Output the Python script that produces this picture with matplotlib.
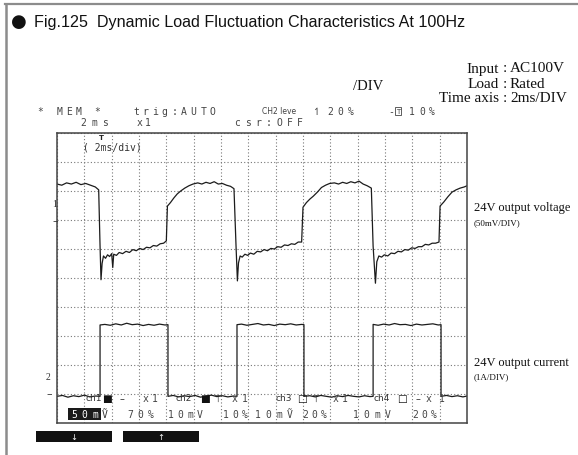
import matplotlib
matplotlib.use("Agg")
import matplotlib.pyplot as plt
from matplotlib.patches import Rectangle
from matplotlib.lines import Line2D

W, H = 578, 456

# ch1: 24V output voltage ripple, time in ms, deviation in mV (50mV/DIV)
v_time = [0.00, 0.35, 0.70, 1.05, 1.40, 1.75, 2.10, 2.45, 2.80, 3.05,
          3.15, 3.22, 3.30, 3.40, 3.55, 3.70, 3.85, 4.00, 4.08, 4.15,
          4.35, 4.55, 4.80, 5.05, 5.30, 5.55, 5.80, 6.05, 6.30, 6.55,
          6.80, 7.05, 7.30, 7.55, 7.80, 8.00, 8.08, 8.30, 8.55, 8.80,
          9.05, 9.35, 9.65, 9.95, 10.3, 10.6, 10.9, 11.2, 11.5, 11.8,
          12.1, 12.4, 12.7, 12.95, 13.10, 13.20, 13.28, 13.40, 13.55, 13.75,
          13.95, 14.15, 14.40, 14.65, 14.90, 15.15, 15.40, 15.65, 15.90, 16.15,
          16.40, 16.65, 16.90, 17.15, 17.40, 17.65, 17.90, 18.00, 18.25, 18.50,
          18.75, 19.05, 19.35, 19.65, 19.95, 20.3, 20.6, 20.9, 21.2, 21.5,
          21.8, 22.1, 22.4, 22.7, 23.0, 23.13, 23.30, 23.40, 23.55, 23.75,
          23.95, 24.2, 24.45, 24.7, 24.95, 25.2, 25.45, 25.7, 25.95, 26.2,
          26.45, 26.7, 26.95, 27.2, 27.45, 27.7, 27.95, 28.03, 28.3, 28.6,
          28.9, 29.2, 29.5, 29.8, 30.0]
v_mv = [62, 60, 64, 62, 65, 61, 63, 60, 57, 52,
        -45, -103, -75, -62, -66, -60, -63, -58, -82, -59,
        -61, -56, -58, -54, -56, -51, -53, -49, -51, -47,
        -48, -44, -45, -41, -40, -36, 24, 30, 38, 45,
        50, 55, 59, 62, 64, 62, 65, 63, 66, 62,
        63, 60, 58, 54, -45, -105, -74, -62, -64, -59,
        -61, -57, -59, -54, -55, -51, -53, -49, -50, -46,
        -47, -43, -44, -41, -42, -38, -38, 22, 30, 36,
        41, 48, 56, 60, 63, 64, 62, 65, 63, 66,
        64, 67, 62, 59, 55, -45, -109, -72, -62, -64,
        -60, -62, -57, -58, -54, -55, -51, -52, -48, -49,
        -46, -46, -42, -43, -40, -40, -38, 24, 31, 40,
        48, 52, 55, 57, 59]

# ch2: 24V output current, time in ms, amps (1A/DIV)
i_time = [0.0, 0.4, 0.8, 1.2, 1.6, 2.0, 2.4, 2.8, 3.15,
          3.15, 3.5, 3.9, 4.3, 4.7, 5.1, 5.5, 5.9, 6.3, 6.7, 7.1, 7.5, 7.9, 8.12,
          8.12, 8.5, 8.9, 9.3, 9.7, 10.1, 10.5, 10.9, 11.3, 11.7, 12.1, 12.5, 12.9, 13.17,
          13.17, 13.5, 13.9, 14.3, 14.7, 15.1, 15.5, 15.9, 16.3, 16.7, 17.1, 17.5, 17.9, 18.07,
          18.07, 18.5, 18.9, 19.3, 19.7, 20.1, 20.5, 20.9, 21.3, 21.7, 22.1, 22.5, 22.9, 23.13,
          23.13, 23.5, 23.9, 24.3, 24.7, 25.1, 25.5, 25.9, 26.3, 26.7, 27.1, 27.5, 27.9, 28.1,
          28.1, 28.5, 28.9, 29.3, 29.7, 30.0]
i_amp = [-0.08, -0.05, -0.11, -0.06, -0.09, -0.04, -0.10, -0.07, -0.08,
         2.38, 2.40, 2.37, 2.42, 2.38, 2.44, 2.39, 2.41, 2.36, 2.40, 2.37, 2.41, 2.38, 2.39,
         -0.08, -0.05, -0.10, -0.06, -0.09, -0.05, -0.11, -0.07, -0.04, -0.09, -0.06, -0.10, -0.07, -0.08,
         2.39, 2.41, 2.37, 2.40, 2.43, 2.38, 2.40, 2.36, 2.41, 2.39, 2.42, 2.38, 2.40, 2.39,
         -0.08, -0.06, -0.10, -0.05, -0.08, -0.11, -0.06, -0.09, -0.05, -0.08, -0.10, -0.06, -0.09, -0.08,
         2.40, 2.37, 2.41, 2.38, 2.43, 2.39, 2.40, 2.36, 2.41, 2.38, 2.40, 2.42, 2.38, 2.39,
         -0.08, -0.05, -0.09, -0.06, -0.10, -0.07]

ch1_zero, ch1_scale = 7, 50.0   # division of ch1 marker, mV per div
ch2_zero, ch2_scale = 1, 1.0    # division of ch2 marker, A per div

fig = plt.figure(figsize=(W / 100, H / 100), dpi=100)


def ftxt(x, y, s, **kw):
    kw.setdefault("va", "center")
    return fig.text(x / W, 1 - y / H, s, **kw)


def frect(x, y, w, h, **kw):
    fig.add_artist(Rectangle((x / W, 1 - (y + h) / H), w / W, h / H,
                             transform=fig.transFigure, **kw))


def scope_chars(x0, y, s, pitch, color="#444444", size=7):
    for k, ch in enumerate(s):
        if ch != " ":
            ftxt(x0 + k * pitch, y, ch, ha="center", family="DejaVu Sans Mono",
                 fontsize=size, color=color)


# outer frame
fig.add_artist(Line2D([5 / W, 1], [1 - 5 / H, 1 - 5 / H], transform=fig.transFigure,
                      color="#8c8c8c", lw=1.6))
fig.add_artist(Line2D([6 / W, 6 / W], [1 - 5 / H, 0], transform=fig.transFigure,
                      color="#8c8c8c", lw=1.8))

# title
ftxt(11, 22, "\u25cf", family="DejaVu Sans", fontsize=13, color="#111")
ftxt(34, 22, "Fig.125  Dynamic Load Fluctuation Characteristics At 100Hz",
     family=["Liberation Sans", "DejaVu Sans"], fontsize=11.6, color="#111")

# conditions
serif = ["Liberation Serif", "DejaVu Serif"]
for y, lab, val in [(69, "Input", "AC100V"), (84, "Load", "Rated"), (99, "Time axis", "2ms/DIV")]:
    ftxt(499, y, lab, ha="right", family=serif, fontsize=11, color="#111")
    ftxt(505, y, ":", ha="center", family=serif, fontsize=11, color="#111")
    ftxt(510, y, val, ha="left", family=serif, fontsize=11, color="#111")
ftxt(353, 87, "/DIV", ha="left", family=serif, fontsize=10.5, color="#111")

# scope screen
ax = fig.add_axes([57 / W, 1 - 424 / H, 410 / W, 290 / H])
ax.set_xlim(0, 30)
ax.set_ylim(0, 10)
ax.set_xticks(range(0, 31, 2))
ax.set_yticks(range(0, 11))
ax.grid(True, color="#777777", linestyle=(0, (1, 2)), linewidth=0.8)
ax.tick_params(length=0, labelbottom=False, labelleft=False)
for sp in ax.spines.values():
    sp.set_color("#444444")
    sp.set_linewidth(1.1)

ax.plot(v_time, [ch1_zero + v / ch1_scale for v in v_mv], color="#1c1c1c", lw=0.9)
ax.plot(i_time, [ch2_zero + a / ch2_scale for a in i_amp], color="#1c1c1c", lw=0.9)

# channel markers left of screen
ftxt(55, 205, "1", ha="center", family=serif, fontsize=7, color="#333")
ftxt(55, 221, "\u2013", ha="center", family="DejaVu Sans", fontsize=8, color="#333")
ftxt(48, 378, "2", ha="center", family=serif, fontsize=7, color="#333")
ftxt(49, 394, "\u2013", ha="center", family="DejaVu Sans", fontsize=8, color="#333")

# scope header
scope_chars(40, 112, "* MEM *   trig:AUTO", 9.6)
ftxt(262, 112, "CH2 leve", ha="left", family="DejaVu Sans", fontsize=5.5, color="#444444")
ftxt(317, 112, "\u21bf", ha="center", family="DejaVu Sans", fontsize=7, color="#444444")
scope_chars(330, 112, "20%", 10.5)
ftxt(391, 112, "-", ha="center", family="DejaVu Sans Mono", fontsize=7, color="#444444")
ftxt(398, 112, "T", ha="center", family="DejaVu Sans", fontsize=5, color="#444444",
     bbox=dict(boxstyle="square,pad=0.15", fc="none", ec="#444444", lw=0.6))
scope_chars(412, 112, "10%", 10)
scope_chars(83, 123, "2ms", 11)
scope_chars(140, 123, "x1", 8)
scope_chars(237, 123, "csr:OFF", 10.5)

# inside screen top
ftxt(101, 138, "T", ha="center", family="DejaVu Sans", fontsize=5, color="#222", weight="bold")
ftxt(83, 148, "( 2ms/div)", ha="left", family="DejaVu Sans Mono", fontsize=7, color="#333")

# inside screen bottom rows
row1 = 399
ftxt(86, row1, "ch1", ha="left", family="DejaVu Sans", fontsize=6.5, color="#333")
ftxt(106.5, row1, "\u25a0", ha="center", family="DejaVu Sans", fontsize=7.5, color="#111")
ftxt(122, row1, "\u2013", ha="center", family="DejaVu Sans", fontsize=7, color="#333")
scope_chars(146, row1, "x1", 9)
ftxt(175, row1, "ch2", ha="left", family="DejaVu Sans", fontsize=6.5, color="#333")
ftxt(205, row1, "\u25a0", ha="center", family="DejaVu Sans", fontsize=7.5, color="#111")
ftxt(217, row1, "\u22a4", ha="center", family="DejaVu Sans", fontsize=7, color="#333")
scope_chars(235, row1, "x1", 10)
ftxt(275, row1, "ch3", ha="left", family="DejaVu Sans", fontsize=6.5, color="#333")
ftxt(301.5, row1, "\u25a1", ha="center", family="DejaVu Sans", fontsize=7.5, color="#111")
ftxt(315, row1, "\u22a4", ha="center", family="DejaVu Sans", fontsize=7, color="#333")
scope_chars(336, row1, "x1", 9)
ftxt(373, row1, "ch4", ha="left", family="DejaVu Sans", fontsize=6.5, color="#333")
ftxt(401.5, row1, "\u25a1", ha="center", family="DejaVu Sans", fontsize=7.5, color="#111")
ftxt(418, row1, "\u2013", ha="center", family="DejaVu Sans", fontsize=7, color="#333")
scope_chars(429, row1, "x1", 13)

row2 = 415
frect(68, 409, 33, 12, color="#1a1a1a", lw=0)
scope_chars(74, row2, "50m", 10.5, color="white")
ftxt(105, row2, "\u1e7c", ha="center", family="DejaVu Sans Mono", fontsize=7, color="#333")
scope_chars(130, row2, "70%", 10.5)
scope_chars(171, row2, "10mV", 9.7)
scope_chars(226, row2, "10%", 9.5)
scope_chars(258, row2, "10m\u1e7c", 10.5)
scope_chars(305, row2, "20%", 9.5)
scope_chars(356, row2, "10mV", 10.5)
scope_chars(415, row2, "20%", 9.5)

# soft keys
frect(36, 432, 76, 11, color="#111", lw=0)
frect(123, 432, 76, 11, color="#111", lw=0)
ftxt(74, 437.5, "\u2193", ha="center", family="DejaVu Sans", fontsize=6, color="white")
ftxt(161, 437.5, "\u2191", ha="center", family="DejaVu Sans", fontsize=6, color="white")

# channel captions
ftxt(474, 208, "24V output voltage", ha="left", family=serif, fontsize=9, color="#111")
ftxt(474, 223, "(50mV/DIV)", ha="left", family=serif, fontsize=6.5, color="#111")
ftxt(474, 363, "24V output current", ha="left", family=serif, fontsize=9, color="#111")
ftxt(474, 377, "(1A/DIV)", ha="left", family=serif, fontsize=6.5, color="#111")

fig.savefig("out.png", dpi=100)
